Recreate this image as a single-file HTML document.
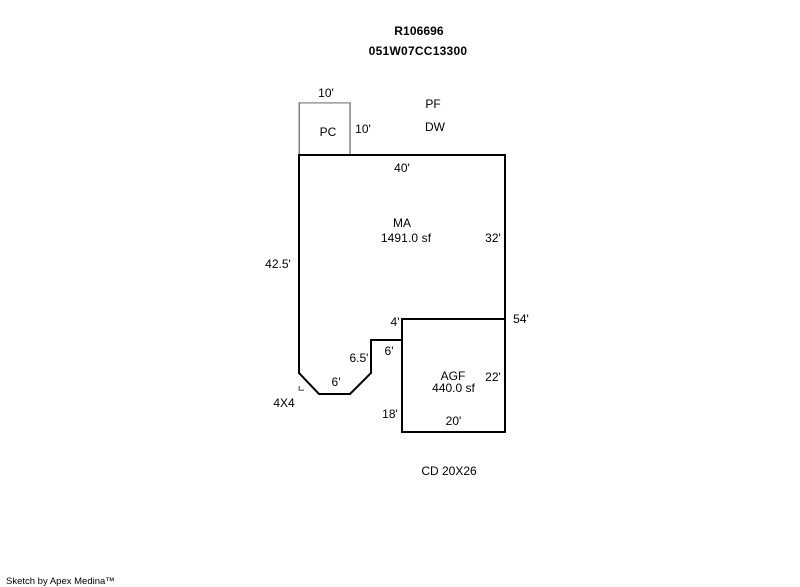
<!DOCTYPE html>
<html>
<head>
<meta charset="utf-8">
<style>
html,body{margin:0;padding:0;background:#fff;width:800px;height:587px;overflow:hidden}
svg{display:block}
text{font-family:"Liberation Sans",Arial,sans-serif;font-size:12px;fill:#000}
.b{font-weight:bold}
.s{font-size:9.5px}
</style>
</head>
<body>
<svg width="800" height="587" viewBox="0 0 800 587" xmlns="http://www.w3.org/2000/svg">
<g fill="#808080">
<rect x="298.500" y="102.300" width="1.500" height="53"/>
<rect x="349.300" y="102.300" width="1.500" height="53"/>
<rect x="298.500" y="102.300" width="52.300" height="1.200"/>
<rect x="298.500" y="386" width="1.500" height="5"/>
<rect x="298.500" y="389.500" width="5.500" height="1.500"/>
</g>
<path d="M402 340H371V373L350 394H319L299 373V155H505V432H402V319H505" fill="none" stroke="#000" stroke-width="2" stroke-linejoin="miter" stroke-linecap="square"/>
<path d="M402 319V340" fill="none" stroke="#000" stroke-width="2"/>
<text class="b" x="419" y="35" text-anchor="middle" letter-spacing="0.100">R106696</text>
<text class="b" x="418" y="55" text-anchor="middle" letter-spacing="0.250">051W07CC13300</text>
<text x="326" y="97" text-anchor="middle">10'</text>
<text x="433" y="108" text-anchor="middle">PF</text>
<text x="435" y="131" text-anchor="middle">DW</text>
<text x="328" y="136" text-anchor="middle">PC</text>
<text x="363" y="133" text-anchor="middle">10'</text>
<text x="402" y="172" text-anchor="middle">40'</text>
<text x="402" y="227" text-anchor="middle">MA</text>
<text x="406" y="242" text-anchor="middle" letter-spacing="0.100">1491.0 sf</text>
<text x="493" y="242" text-anchor="middle">32'</text>
<text x="278" y="268" text-anchor="middle">42.5'</text>
<text x="521" y="323" text-anchor="middle">54'</text>
<text x="395" y="326" text-anchor="middle">4'</text>
<text x="389" y="355" text-anchor="middle">6'</text>
<text x="359" y="362" text-anchor="middle">6.5'</text>
<text x="336" y="386" text-anchor="middle">6'</text>
<text x="284" y="407" text-anchor="middle">4X4</text>
<text x="453" y="380" text-anchor="middle">AGF</text>
<text x="453.500" y="392" text-anchor="middle">440.0 sf</text>
<text x="493" y="381" text-anchor="middle">22'</text>
<text x="390" y="418" text-anchor="middle">18'</text>
<text x="453.500" y="425" text-anchor="middle">20'</text>
<text x="449" y="475" text-anchor="middle">CD 20X26</text>
<text class="s" x="6" y="584">Sketch by Apex Medina™</text>
</svg>
</body>
</html>
